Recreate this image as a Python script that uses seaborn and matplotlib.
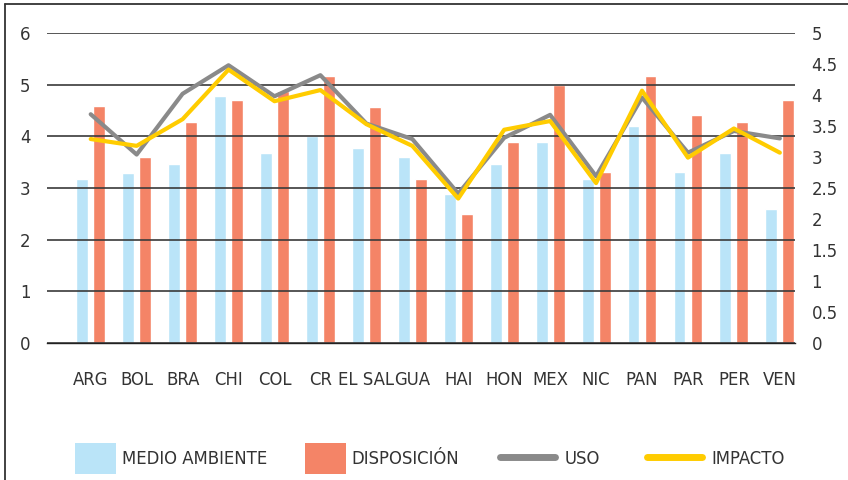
# -*- coding: utf-8 -*-

"""
    Índices por país: barras (eje izquierdo) y líneas (eje derecho)
"""

import numpy as np
import pandas as pd
import matplotlib.pyplot as plt
import seaborn as sns
from matplotlib.lines import Line2D
from matplotlib.patches import Patch
from matplotlib.ticker import FuncFormatter

# datos
paises = ['ARG', 'BOL', 'BRA', 'CHI', 'COL', 'CR', 'EL SAL', 'GUA',
          'HAI', 'HON', 'MEX', 'NIC', 'PAN', 'PAR', 'PER', 'VEN']
medio_ambiente = [3.17, 3.29, 3.46, 4.78, 3.68, 4.00, 3.77, 3.60,
                  2.88, 3.46, 3.89, 3.17, 4.20, 3.31, 3.68, 2.59]
disposicion = [4.59, 3.60, 4.28, 4.70, 4.88, 5.17, 4.57, 3.17,
               2.50, 3.89, 5.00, 3.31, 5.17, 4.41, 4.28, 4.70]
uso = [3.69, 3.04, 4.02, 4.48, 3.98, 4.32, 3.54, 3.29,
       2.41, 3.31, 3.68, 2.69, 3.96, 3.07, 3.42, 3.30]
impacto = [3.29, 3.18, 3.61, 4.41, 3.90, 4.08, 3.53, 3.18,
           2.33, 3.44, 3.58, 2.58, 4.07, 2.99, 3.46, 3.07]

series_barras = ['MEDIO AMBIENTE', 'DISPOSICIÓN']
series_lineas = ['USO', 'IMPACTO']
colores = {'MEDIO AMBIENTE': '#BAE4F8', 'DISPOSICIÓN': '#F48467',
           'USO': '#8A8A8A', 'IMPACTO': '#FFCC00'}
texto = '#333333'
fs = 13.2


def main():
    sns.set_style('white')
    plt.rcParams['font.family'] = ['Liberation Sans Narrow', 'DejaVu Sans']
    plt.rcParams['font.stretch'] = 'condensed'

    barras = pd.DataFrame({
        'pais': paises * 2,
        'valor': medio_ambiente + disposicion,
        'serie': [series_barras[0]] * len(paises) + [series_barras[1]] * len(paises),
    })
    pos = np.arange(len(paises))

    fig = plt.figure(figsize=(8.48, 4.8), dpi=100)
    ax = fig.add_axes([0.0555, 0.2854, 0.882, 0.6458])

    sns.barplot(data=barras, x='pais', y='valor', hue='serie', order=paises,
                hue_order=series_barras, palette=colores, width=0.74, gap=0.3,
                saturation=1, legend=False, ax=ax)

    ax.set_ylim(0, 6)
    ax.set_yticks(range(7))
    ax.set_xlabel('')
    ax.set_ylabel('')
    ax.grid(axis='y', color='#3a3a3a', linewidth=1.2)
    ax.set_axisbelow(False)
    for s in ['top', 'right', 'left']:
        ax.spines[s].set_visible(False)
    ax.spines['bottom'].set_color('#222222')
    ax.spines['bottom'].set_linewidth(1)
    ax.set_xticks(pos)
    ax.set_xticklabels(paises)
    ax.set_xticks([-0.95], minor=True)
    ax.tick_params(axis='x', which='both', length=19, width=1, color='#333333',
                   direction='out', pad=1.5, labelsize=fs, labelcolor=texto)
    ax.tick_params(axis='y', length=0, pad=12, labelsize=fs, labelcolor=texto)

    # líneas en el eje derecho
    ax2 = ax.twinx()
    sns.lineplot(x=pos, y=uso, color=colores['USO'], linewidth=3, ax=ax2)
    sns.lineplot(x=pos, y=impacto, color=colores['IMPACTO'], linewidth=3, ax=ax2)
    ax2.set_ylim(0, 5)
    ax2.set_yticks(np.arange(0, 5.01, 0.5))
    ax2.yaxis.set_major_formatter(FuncFormatter(lambda v, p: '{:g}'.format(v)))
    ax2.tick_params(axis='y', length=0, pad=12, labelsize=fs, labelcolor=texto)
    for s in ['top', 'right', 'left', 'bottom']:
        ax2.spines[s].set_visible(False)
    ax.set_xlim(-0.95, 15.33)

    # leyenda: una entrada por posición
    y_ley = 1 - 458.5 / 480
    for s, x0 in zip(series_barras, [75, 305]):
        fig.legend(handles=[Patch(facecolor=colores[s], edgecolor='none', label=s)],
                   loc='center left', bbox_to_anchor=(x0 / 848, y_ley), frameon=False,
                   fontsize=fs, handlelength=2.25, handleheight=2.25, handletextpad=0.3,
                   borderpad=0, borderaxespad=0, labelcolor=texto)
    for s, x0 in zip(series_lineas, [500, 647]):
        fig.legend(handles=[Line2D([], [], color=colores[s], linewidth=5,
                                   solid_capstyle='round', label=s)],
                   loc='center left', bbox_to_anchor=(x0 / 848, y_ley), frameon=False,
                   fontsize=fs, handlelength=3.0, handletextpad=0.5,
                   borderpad=0, borderaxespad=0, labelcolor=texto)

    # marco exterior
    fig.add_artist(Line2D([5 / 848, 5 / 848], [0, 1 - 4 / 480], transform=fig.transFigure,
                          color='#333333', linewidth=1.3))
    fig.add_artist(Line2D([5 / 848, 1], [1 - 4 / 480, 1 - 4 / 480], transform=fig.transFigure,
                          color='#333333', linewidth=1.3))

    fig.savefig('out.png', dpi=100)


if __name__ == '__main__':
    main()
